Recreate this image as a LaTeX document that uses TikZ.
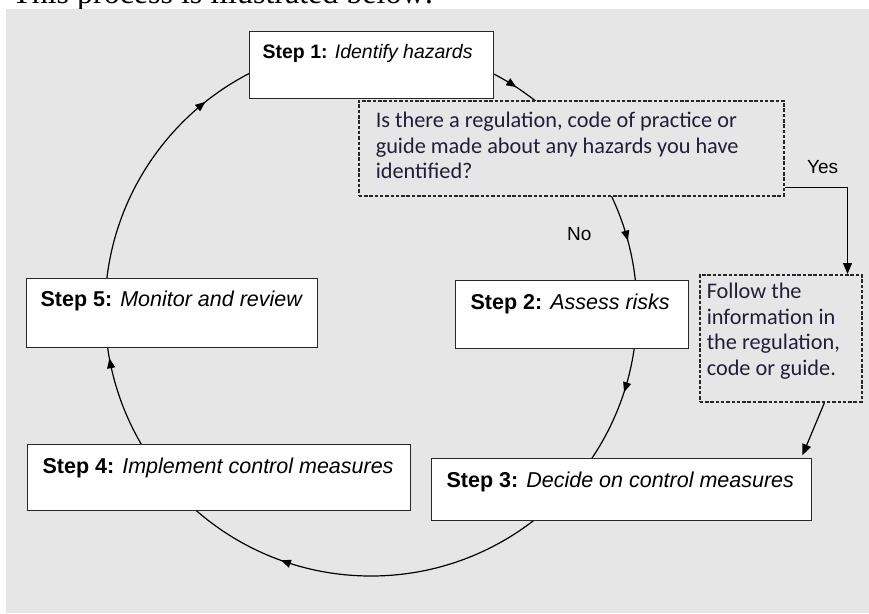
\documentclass[tikz,border=0pt]{standalone}
\usepackage{fontspec}
\setmainfont{Liberation Serif}
\setsansfont{Liberation Sans}
\newfontfamily\calib{Carlito}
\usetikzlibrary{arrows.meta,decorations.markings}
\definecolor{bgc}{RGB}{230,230,230}
\definecolor{txtc}{RGB}{35,30,55}
\definecolor{edgec}{RGB}{40,40,40}
\newcommand\boxtext[5]{\parbox[t][#2][t]{#1}{\hspace*{#3}\rule{0pt}{#4}#5}}
\begin{document}
\begin{tikzpicture}[x=1pt,y=1pt,
  stepbox/.style={draw=edgec, line width=1.3pt, fill=white, inner sep=0pt, anchor=north west, font=\sffamily\fontsize{21.5}{24}\selectfont},
  notebox/.style={draw=black!85, line width=1.5pt, dash pattern=on 3.5pt off 1.8pt, fill=bgc, inner sep=0pt, anchor=north west, text=txtc, font=\calib\fontsize{22.3}{25.5}\selectfont},
  tip/.style={-{Triangle[length=11pt,width=9pt]}, line width=1.2pt},
  lbl/.style={font=\sffamily\fontsize{19}{22}\selectfont, inner sep=0pt, anchor=base west},
  cyc/.style={line width=1.2pt, postaction={decorate}, decoration={markings,
    mark=at position 0.092 with {\arrow{Triangle[length=10pt,width=8pt]}},
    mark=at position 0.208 with {\arrow{Triangle[length=10pt,width=8pt]}},
    mark=at position 0.300 with {\arrow{Triangle[length=10pt,width=8pt]}},
    mark=at position 0.555 with {\arrow{Triangle[length=10pt,width=8pt]}},
    mark=at position 0.721 with {\arrow{Triangle[length=10pt,width=8pt]}},
    mark=at position 0.893 with {\arrow{Triangle[length=10pt,width=8pt]}}}}
]
\useasboundingbox (0,0) rectangle (869,-613);
\node[anchor=base west, inner sep=0pt, font=\fontsize{32}{36}\selectfont] (title) at (12,-4) {This process is illustrated below:};
\fill[bgc] (6,-9) rectangle (869,-613);
% cycle
\coordinate (ctr) at (371,-310);
\draw[cyc] (371,-44) arc[start angle=90, end angle=-270, radius=266];
% boxes
\node[stepbox] (s1) at (249,-31) {\boxtext{244pt}{67pt}{13pt}{27pt}{\fontsize{19.5}{22}\selectfont\textbf{Step 1:} \textit{Identify hazards}}};
\node[notebox] (q) at (358,-100) {\boxtext{425pt}{95pt}{17pt}{27pt}{Is there a regulation, code of practice or\\\hspace*{17pt}guide made about any hazards you have\\\hspace*{17pt}identified?}};
\node[stepbox] (s2) at (455,-280) {\boxtext{233pt}{68pt}{15pt}{29pt}{\textbf{Step 2:} \textit{Assess risks}}};
\node[notebox] (f) at (699,-274) {\boxtext{162pt}{127pt}{7pt}{24pt}{Follow the\\\hspace*{7pt}information in\\\hspace*{7pt}the regulation,\\\hspace*{7pt}code or guide.}};
\node[stepbox] (s3) at (431,-458) {\boxtext{380pt}{62pt}{15pt}{29pt}{\textbf{Step 3:} \textit{Decide on control measures}}};
\node[stepbox] (s4) at (27,-444) {\boxtext{383pt}{66pt}{15pt}{29pt}{\textbf{Step 4:} \textit{Implement control measures}}};
\node[stepbox] (s5) at (26,-278) {\boxtext{291pt}{69pt}{14pt}{28pt}{\textbf{Step 5:} \textit{Monitor and review}}};
% labels
\node[lbl] (yes) at (807,-173) {Yes};
\node[lbl] (no) at (567,-240) {No};
% connectors
\draw[tip] ([yshift=9pt]q.south east) -| ([xshift=-15pt]f.north east);
\draw[tip, shorten >=3pt] ([xshift=-38pt]f.south east) -- ([xshift=-11pt]s3.north east);
\end{tikzpicture}
\end{document}
